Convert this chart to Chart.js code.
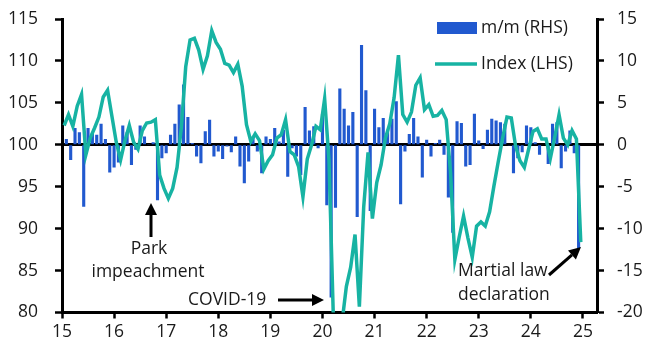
<!DOCTYPE html>
<html>
<head>
<meta charset="utf-8">
<script src="https://cdn.jsdelivr.net/npm/chart.js@4.4.1/dist/chart.umd.min.js"></script>
<style>
  html, body { margin: 0; padding: 0; background: #fff; }
  #wrap { width: 652px; height: 351px; }
</style>
</head>
<body>
<div id="wrap"><canvas id="chart" width="652" height="351"></canvas></div>
<script>
// Consumer sentiment index (LHS) and its monthly change (RHS), Jan 2015 - Dec 2024
const startYear = 2015;

const indexLHS = [
  102.3, 103.6, 102.2, 104.6, 106.0, 98.8, 100.8, 102.0, 103.3, 105.7, 106.5, 103.4, // 2015
  100.3, 98.2, 100.5, 102.3, 100.3, 99.5, 101.7, 102.6, 102.7, 103.0, 96.4, 94.8,     // 2016
  93.6, 94.8, 97.3, 102.1, 109.3, 112.5, 112.7, 111.3, 109.0, 110.6, 113.6, 112.2,    // 2017
  111.4, 109.7, 109.5, 108.6, 109.6, 107.0, 102.4, 100.4, 101.3, 100.5, 97.1, 98.1,   // 2018
  98.8, 100.8, 101.2, 103.0, 99.2, 98.8, 97.4, 93.8, 98.3, 100.0, 102.2, 101.8,       // 2019
  105.5, 98.2, 79.6, 72.1, 78.8, 83.1, 85.4, 89.3, 80.7, 92.6, 99.1, 91.2,            // 2020
  95.5, 97.6, 100.8, 102.5, 105.6, 110.7, 103.6, 102.7, 103.9, 107.1, 108.0, 104.2,   // 2021
  104.8, 103.4, 103.5, 104.1, 103.0, 96.7, 86.3, 89.0, 91.5, 88.9, 86.6, 90.3,        // 2022
  90.8, 90.3, 92.0, 95.1, 98.0, 100.8, 103.3, 103.2, 99.8, 98.1, 97.3, 99.5,          // 2023
  101.6, 101.9, 100.7, 100.7, 98.4, 100.9, 103.6, 100.8, 100.0, 101.7, 100.7, 88.4    // 2024
];

const momRHS = [
  null, 0.7, -1.8, 2.0, 1.5, -7.4, 2.0, 1.4, 1.2, 2.5, 0.7, -3.3,     // 2015
  -2.7, -2.1, 2.3, 1.5, -2.4, -0.6, 2.3, 1.0, 0.1, 0.3, -6.6, -1.6,   // 2016
  -1.0, 1.2, 2.5, 4.8, 7.2, 3.3, 0.2, -1.4, -2.2, 1.6, 3.0, -1.4,     // 2017
  -0.8, -1.7, -0.2, -0.9, 1.0, -2.6, -4.6, -2.0, 0.9, -0.8, -3.4, 1.0, // 2018
  0.7, 2.0, 0.4, 1.8, -3.8, -0.4, -1.4, -3.6, 4.5, 1.7, 2.2, -0.4,    // 2019
  3.7, -7.2, -18.2, -7.5, 6.7, 4.3, 2.3, 3.9, -8.6, 11.9, 6.5, -7.9,  // 2020
  4.3, 2.1, 3.2, 1.8, 3.1, 5.2, -7.1, -0.8, 1.3, 3.2, 1.0, -3.9,      // 2021
  0.6, -1.4, 0.2, 0.6, -1.2, -6.3, -10.5, 2.8, 2.6, -2.6, -2.4, 3.7,  // 2022
  0.5, -0.5, 1.8, 3.1, 2.9, 2.7, 2.5, -0.1, -3.4, -1.6, -0.9, 2.3,    // 2023
  2.1, 0.3, -1.2, 0.0, -2.3, 2.5, 2.7, -2.8, -0.8, 1.7, -1.0, -12.3   // 2024
];

const xTickLabels = ["15", "16", "17", "18", "19", "20", "21", "22", "23", "24", "25"];
const leftTicks = [80, 85, 90, 95, 100, 105, 110, 115];
const rightTicks = [-20, -15, -10, -5, 0, 5, 10, 15];

const TEAL = "#17b3a3";
const BLUE = "#2159cf";
const TEXT = "#1a1a1a";
const FONT = "17.5px 'Open Sans'";

// line points sit mid-month, bars at the start of the month
const linePoints = indexLHS.map((v, i) => ({ x: startYear + (i + 0.5) / 12, y: v }));
const barPoints = momRHS.map((v, i) => ({ x: startYear + i / 12, y: v }));

Chart.defaults.font.family = "'Open Sans'";
Chart.defaults.font.size = 17.5;
Chart.defaults.color = TEXT;

function arrow(ctx, x1, y1, x2, y2) {
  const ang = Math.atan2(y2 - y1, x2 - x1);
  const head = 12, half = 6;
  const bx = x2 - head * Math.cos(ang), by = y2 - head * Math.sin(ang);
  ctx.beginPath();
  ctx.moveTo(x1, y1);
  ctx.lineTo(bx, by);
  ctx.stroke();
  ctx.beginPath();
  ctx.moveTo(x2, y2);
  ctx.lineTo(bx + half * Math.sin(ang), by - half * Math.cos(ang));
  ctx.lineTo(bx - half * Math.sin(ang), by + half * Math.cos(ang));
  ctx.closePath();
  ctx.fill();
}

// fixed axis sizes, and no extra top/bottom room for the tick labels
function fitY(width) {
  return (s) => {
    s.width = width;
    s.paddingTop = 0;
    s.paddingBottom = 0;
  };
}

// legend drawn inside the plot, top right
const legendBox = {
  id: "legendBox",
  afterDraw(chart) {
    const { ctx } = chart;
    const lineDs = chart.data.datasets[0];
    const barDs = chart.data.datasets[1];
    ctx.save();
    ctx.fillStyle = barDs.backgroundColor;
    ctx.fillRect(437, 22, 40, 12);
    ctx.strokeStyle = lineDs.borderColor;
    ctx.lineWidth = 3.5;
    ctx.beginPath();
    ctx.moveTo(435, 64);
    ctx.lineTo(477, 64);
    ctx.stroke();
    ctx.font = FONT;
    ctx.fillStyle = TEXT;
    ctx.textBaseline = "middle";
    ctx.textAlign = "left";
    ctx.fillText(barDs.label, 481, 28.5);
    ctx.fillText(lineDs.label, 481, 64.5);
    ctx.restore();
  }
};

// event labels with arrows
const notes = {
  id: "notes",
  afterDraw(chart) {
    const { ctx } = chart;
    ctx.save();
    ctx.font = FONT;
    ctx.fillStyle = TEXT;
    ctx.strokeStyle = TEXT;
    ctx.lineWidth = 3;
    ctx.textBaseline = "alphabetic";
    ctx.textAlign = "center";
    ctx.fillText("Park", 149, 254);
    ctx.fillText("impeachment", 148, 277);
    ctx.textAlign = "left";
    ctx.fillText("COVID-19", 188, 305);
    ctx.fillText("Martial law", 458, 276);
    ctx.fillText("declaration", 458, 300);
    ctx.fillStyle = "#000";
    ctx.strokeStyle = "#000";
    arrow(ctx, 151, 237, 151, 203);
    arrow(ctx, 278, 300, 324, 300);
    arrow(ctx, 549, 275, 581, 247);
    ctx.restore();
  }
};

const ctx = document.getElementById("chart").getContext("2d");
new Chart(ctx, {
  type: "bar",
  data: {
    datasets: [
      {
        type: "line",
        label: "Index (LHS)",
        data: linePoints,
        yAxisID: "yL",
        borderColor: TEAL,
        backgroundColor: TEAL,
        borderWidth: 3.5,
        pointRadius: 0,
        tension: 0,
        order: 0
      },
      {
        type: "bar",
        label: "m/m (RHS)",
        data: barPoints,
        yAxisID: "yR",
        backgroundColor: BLUE,
        barPercentage: 0.72,
        categoryPercentage: 1,
        order: 1
      }
    ]
  },
  options: {
    responsive: false,
    animation: false,
    layout: { padding: { top: 19, left: 0, right: 0, bottom: 0 } },
    plugins: {
      legend: { display: false },
      tooltip: { enabled: false }
    },
    scales: {
      x: {
        type: "linear",
        position: "bottom",
        min: 2015,
        max: 2025.27,
        offset: false,
        afterFit: (s) => { s.height = 38.5; },
        grid: {
          offset: false,
          drawOnChartArea: false,
          color: "#000",
          tickColor: "#000",
          tickLength: 6,
          tickWidth: 2.5
        },
        border: { display: true, color: "#000", width: 3 },
        ticks: {
          stepSize: 1,
          includeBounds: false,
          padding: 3,
          maxRotation: 0,
          autoSkip: false,
          callback: (v) => xTickLabels[Math.round(v) - startYear]
        }
      },
      yL: {
        type: "linear",
        position: "left",
        min: leftTicks[0],
        max: leftTicks[leftTicks.length - 1],
        afterFit: fitY(62),
        afterBuildTicks: (s) => { s.ticks = leftTicks.map((v) => ({ value: v })); },
        grid: {
          color: (c) => (c.tick && c.tick.value === 100 ? "#000" : "rgba(0,0,0,0)"),
          lineWidth: 3,
          tickColor: "#000",
          tickLength: 7,
          tickWidth: 2.5
        },
        border: { display: true, color: "#000", width: 3 },
        ticks: { padding: 17 }
      },
      yR: {
        type: "linear",
        position: "right",
        min: rightTicks[0],
        max: rightTicks[rightTicks.length - 1],
        afterFit: fitY(55),
        afterBuildTicks: (s) => { s.ticks = rightTicks.map((v) => ({ value: v })); },
        grid: {
          drawOnChartArea: false,
          color: "#000",
          tickColor: "#000",
          tickLength: 7,
          tickWidth: 2.5
        },
        border: { display: true, color: "#000", width: 3 },
        ticks: { padding: 13 }
      }
    }
  },
  plugins: [legendBox, notes]
});
</script>
</body>
</html>
